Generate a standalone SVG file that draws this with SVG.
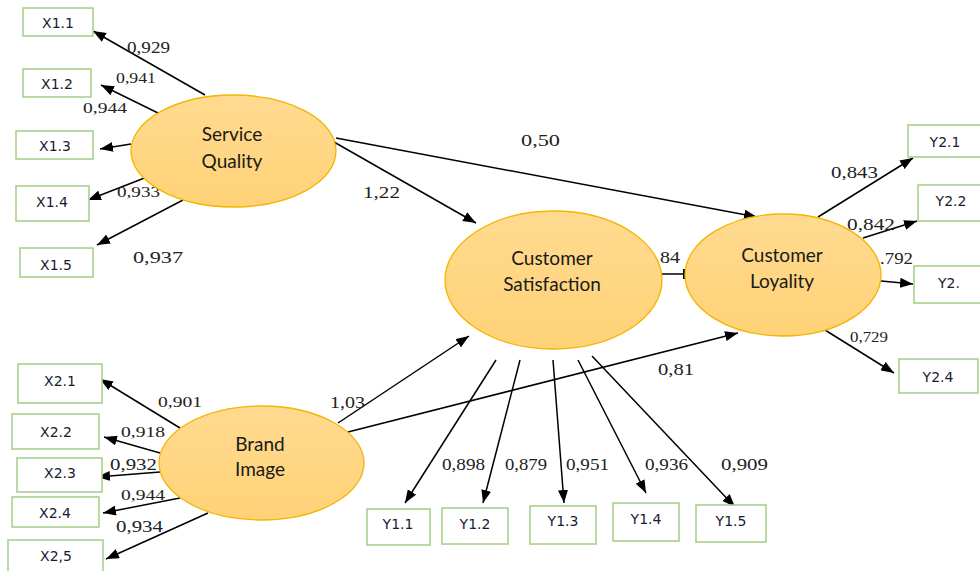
<svg xmlns="http://www.w3.org/2000/svg" width="980" height="571" viewBox="0 0 980 571">
  <defs>
    <linearGradient id="latentFill" x1="0" y1="0" x2="0" y2="1">
      <stop offset="0" stop-color="#FFDA90"/>
      <stop offset="1" stop-color="#FFD277"/>
    </linearGradient>
    <marker id="arrow" markerUnits="userSpaceOnUse" markerWidth="14" markerHeight="10" refX="13" refY="5" orient="auto">
      <path d="M0,0 L13,5 L0,10 Z" fill="#000"/>
    </marker>
    <style>
      .latent { fill: url(#latentFill); stroke: #F4B400; stroke-width: 1.3; }
      .latent-label { font-family: Lato, "Open Sans", sans-serif; font-size: 19px; fill: #1a1a1a; text-anchor: middle; dominant-baseline: central; }
      .indicator { fill: #fff; stroke: #A9D18E; stroke-width: 1.6; }
      .indicator-label { font-family: "DejaVu Sans", Verdana, sans-serif; font-size: 14px; fill: #1a1a33; text-anchor: middle; dominant-baseline: central; }
      .path { stroke: #000; stroke-width: 1.5; fill: none; marker-end: url(#arrow); }
      .coef { font-family: "Liberation Serif", "Times New Roman", serif; font-size: 17px; fill: #222; dominant-baseline: central; }
      .coef-small { font-size: 14px; }
    </style>
  </defs>

  <rect width="980" height="571" fill="#fff"/>

  <!-- paths and loadings -->
  <g id="connectors">
    <!-- Service Quality outer loadings -->
    <line class="path" x1="205" y1="95" x2="93" y2="31"/>
    <line class="path" x1="158" y1="113" x2="101" y2="85"/>
    <line class="path" x1="131" y1="144" x2="100" y2="149"/>
    <line class="path" x1="147" y1="177" x2="88" y2="200"/>
    <line class="path" x1="183" y1="200" x2="97" y2="245"/>

    <!-- Brand Image outer loadings -->
    <line class="path" x1="180" y1="428" x2="100" y2="379"/>
    <line class="path" x1="160" y1="453" x2="104" y2="437"/>
    <line class="path" x1="160" y1="472" x2="97" y2="477"/>
    <line class="path" x1="180" y1="498" x2="103" y2="513"/>
    <line class="path" x1="208" y1="513" x2="106" y2="559"/>

    <!-- structural paths -->
    <line class="path" x1="334" y1="142" x2="476" y2="223"/>
    <line class="path" x1="336" y1="138" x2="757" y2="217"/>
    <line class="path" x1="338" y1="423" x2="469" y2="336"/>
    <line class="path" x1="348" y1="432" x2="738" y2="333"/>
    <line x1="662" y1="274" x2="685" y2="274" stroke="#000" stroke-width="1.5"/>
    <line x1="684" y1="269" x2="684" y2="279" stroke="#000" stroke-width="2"/>

    <!-- Customer Satisfaction outer loadings -->
    <line class="path" x1="496" y1="360" x2="405" y2="503"/>
    <line class="path" x1="520" y1="360" x2="483" y2="503"/>
    <line class="path" x1="553" y1="360" x2="564" y2="503"/>
    <line class="path" x1="578" y1="360" x2="646" y2="493"/>
    <line class="path" x1="592" y1="356" x2="735" y2="507"/>

    <!-- Customer Loyality outer loadings -->
    <line class="path" x1="818" y1="217" x2="913" y2="158"/>
    <line class="path" x1="863" y1="238" x2="917" y2="221"/>
    <line class="path" x1="881" y1="281" x2="913" y2="284"/>
    <line class="path" x1="825" y1="330" x2="894" y2="373"/>

    <!-- coefficients -->
    <text class="coef" x="127" y="47" textLength="43" lengthAdjust="spacingAndGlyphs">0,929</text>
    <text class="coef coef-small" x="116" y="78" textLength="40" lengthAdjust="spacingAndGlyphs">0,941</text>
    <text class="coef coef-small" x="83" y="108" textLength="44" lengthAdjust="spacingAndGlyphs">0,944</text>
    <text class="coef coef-small" x="117" y="192" textLength="43" lengthAdjust="spacingAndGlyphs">0,933</text>
    <text class="coef" x="133" y="257" textLength="50" lengthAdjust="spacingAndGlyphs">0,937</text>

    <text class="coef coef-small" x="158" y="402" textLength="44" lengthAdjust="spacingAndGlyphs">0,901</text>
    <text class="coef coef-small" x="121" y="432" textLength="44" lengthAdjust="spacingAndGlyphs">0,918</text>
    <text class="coef" x="110" y="464" textLength="47" lengthAdjust="spacingAndGlyphs">0,932</text>
    <text class="coef coef-small" x="121" y="495" textLength="44" lengthAdjust="spacingAndGlyphs">0,944</text>
    <text class="coef" x="116" y="526" textLength="47" lengthAdjust="spacingAndGlyphs">0,934</text>

    <text class="coef" x="521" y="140" textLength="39" lengthAdjust="spacingAndGlyphs">0,50</text>
    <text class="coef" x="363" y="192" textLength="37" lengthAdjust="spacingAndGlyphs">1,22</text>
    <text class="coef" x="330" y="402" textLength="35" lengthAdjust="spacingAndGlyphs">1,03</text>
    <text class="coef" x="658" y="369" textLength="36" lengthAdjust="spacingAndGlyphs">0,81</text>
    <text class="coef" x="660" y="257" textLength="20" lengthAdjust="spacingAndGlyphs">84</text>

    <text class="coef" x="442" y="464" textLength="43" lengthAdjust="spacingAndGlyphs">0,898</text>
    <text class="coef" x="505" y="464" textLength="42" lengthAdjust="spacingAndGlyphs">0,879</text>
    <text class="coef" x="566" y="464" textLength="43" lengthAdjust="spacingAndGlyphs">0,951</text>
    <text class="coef" x="645" y="464" textLength="43" lengthAdjust="spacingAndGlyphs">0,936</text>
    <text class="coef" x="721" y="464" textLength="47" lengthAdjust="spacingAndGlyphs">0,909</text>

    <text class="coef" x="831" y="172" textLength="47" lengthAdjust="spacingAndGlyphs">0,843</text>
    <text class="coef" x="847" y="224" textLength="48" lengthAdjust="spacingAndGlyphs">0,842</text>
    <text class="coef" x="880" y="258" textLength="33" lengthAdjust="spacingAndGlyphs">.792</text>
    <text class="coef coef-small" x="850" y="337" textLength="38" lengthAdjust="spacingAndGlyphs">0,729</text>
  </g>

  <!-- latent variables -->
  <g id="service-quality">
    <ellipse class="latent" cx="233.5" cy="151" rx="102.5" ry="56"/>
    <text class="latent-label" x="232" y="133">Service</text>
    <text class="latent-label" x="232" y="160">Quality</text>
  </g>
  <g id="brand-image">
    <ellipse class="latent" cx="261.5" cy="463" rx="102.5" ry="57"/>
    <text class="latent-label" x="260" y="443">Brand</text>
    <text class="latent-label" x="260" y="468">Image</text>
  </g>
  <g id="customer-satisfaction">
    <ellipse class="latent" cx="553.5" cy="280" rx="108.5" ry="69"/>
    <text class="latent-label" x="552" y="257">Customer</text>
    <text class="latent-label" x="552" y="283">Satisfaction</text>
  </g>
  <g id="customer-loyality">
    <ellipse class="latent" cx="783" cy="275" rx="98" ry="61"/>
    <text class="latent-label" x="782" y="254">Customer</text>
    <text class="latent-label" x="782" y="280">Loyality</text>
  </g>

  <!-- indicators -->
  <g id="x1-1"><rect class="indicator" x="23" y="8" width="70" height="28"/><text class="indicator-label" x="58" y="23">X1.1</text></g>
  <g id="x1-2"><rect class="indicator" x="23" y="69" width="68" height="28"/><text class="indicator-label" x="57" y="84">X1.2</text></g>
  <g id="x1-3"><rect class="indicator" x="16" y="131" width="77" height="28"/><text class="indicator-label" x="55" y="146">X1.3</text></g>
  <g id="x1-4"><rect class="indicator" x="16" y="186" width="73" height="35"/><text class="indicator-label" x="52" y="202">X1.4</text></g>
  <g id="x1-5"><rect class="indicator" x="20" y="248" width="73" height="29"/><text class="indicator-label" x="56" y="265">X1.5</text></g>

  <g id="x2-1"><rect class="indicator" x="18" y="364" width="84" height="39"/><text class="indicator-label" x="60" y="381">X2.1</text></g>
  <g id="x2-2"><rect class="indicator" x="12" y="414" width="87" height="35"/><text class="indicator-label" x="56" y="432">X2.2</text></g>
  <g id="x2-3"><rect class="indicator" x="17" y="458" width="85" height="34"/><text class="indicator-label" x="60" y="473">X2.3</text></g>
  <g id="x2-4"><rect class="indicator" x="12" y="497" width="87" height="30"/><text class="indicator-label" x="55" y="513">X2.4</text></g>
  <g id="x2-5"><rect class="indicator" x="8" y="540" width="95" height="34"/><text class="indicator-label" x="56" y="556">X2,5</text></g>

  <g id="y1-1"><rect class="indicator" x="367" y="509" width="63" height="36"/><text class="indicator-label" x="398" y="524">Y1.1</text></g>
  <g id="y1-2"><rect class="indicator" x="442" y="508" width="66" height="36"/><text class="indicator-label" x="475" y="524">Y1.2</text></g>
  <g id="y1-3"><rect class="indicator" x="530" y="506" width="66" height="38"/><text class="indicator-label" x="563" y="521">Y1.3</text></g>
  <g id="y1-4"><rect class="indicator" x="613" y="503" width="66" height="38"/><text class="indicator-label" x="646" y="519">Y1.4</text></g>
  <g id="y1-5"><rect class="indicator" x="696" y="505" width="70" height="37"/><text class="indicator-label" x="731" y="521">Y1.5</text></g>

  <g id="y2-1"><rect class="indicator" x="908" y="125" width="80" height="32"/><text class="indicator-label" x="945" y="142">Y2.1</text></g>
  <g id="y2-2"><rect class="indicator" x="918" y="185" width="70" height="36"/><text class="indicator-label" x="951" y="201">Y2.2</text></g>
  <g id="y2-3"><rect class="indicator" x="914" y="266" width="74" height="37"/><text class="indicator-label" x="949" y="283">Y2.</text></g>
  <g id="y2-4"><rect class="indicator" x="899" y="359" width="79" height="34"/><text class="indicator-label" x="938" y="377">Y2.4</text></g>
</svg>
